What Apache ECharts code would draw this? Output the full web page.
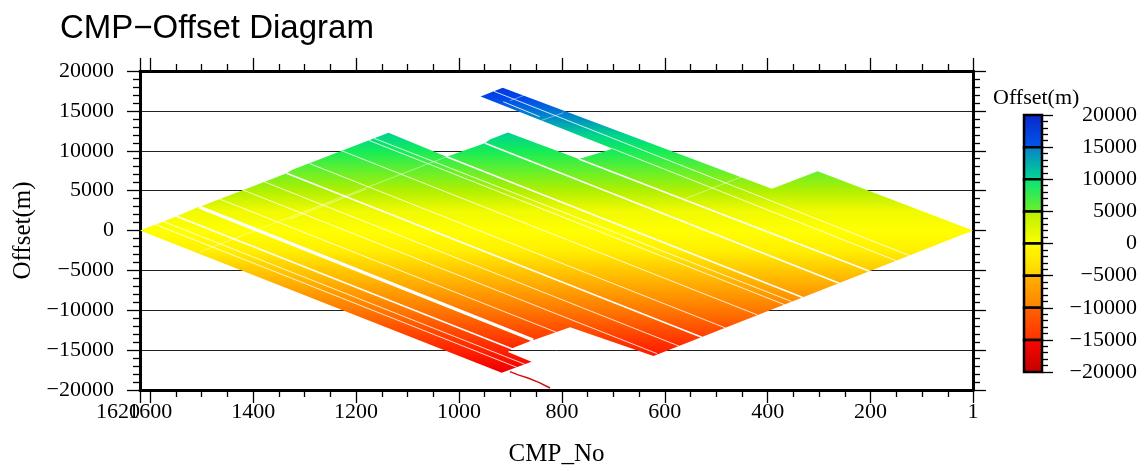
<!DOCTYPE html>
<html><head><meta charset="utf-8">
<script src="https://cdn.jsdelivr.net/npm/echarts@6/dist/echarts.min.js"></script>
<style>html,body{margin:0;padding:0;background:#fff}#c{width:1147px;height:471px}</style>
</head><body><div id="c"></div>
<script>
// ---------- text ----------
const titleText = 'CMP\u2212Offset Diagram';
const xName = 'CMP_No';
const yName = 'Offset(m)';
const cbName = 'Offset(m)';
// ---------- ticks ----------
const xMajorTicks = [1620, 1600, 1400, 1200, 1000, 800, 600, 400, 200, 1];
const xMainLabels = [1600, 1400, 1200, 1000, 800, 600, 400, 200, 1];
const xEdgeLabels = [1620];
const xMinorTicks = [1550, 1500, 1450, 1350, 1300, 1250, 1150, 1100, 1050, 950, 900, 850, 750, 700, 650, 550, 500, 450, 350, 300, 250, 150, 100, 50];
const yMin = -20000, yMax = 20000, yStep = 5000;
// ---------- colour scale (smooth, used for the data) ----------
const colorValues = [20000, 16500, 14000, 12000, 10000, 7500, 5000, 2500, 0, -2500, -5000, -7500, -10000, -12500, -15000, -17500, -20000];
const colorList = ['#0a20c0', '#0048ec', '#0090c4', '#00d48c', '#14ec5a', '#64f02c', '#b0f000', '#f0fa00', '#ffff00', '#fff000', '#ffc800', '#ffa000', '#ff7800', '#ff4c00', '#ff2200', '#f00000', '#c00000'];
// ---------- colour bar segments: top colour / bottom colour for each 5000 band ----------
const cbBounds = [20000, 15000, 10000, 5000, 0, -5000, -10000, -15000, -20000];
const cbTopColors = ['#0a26c8', '#0a7ccc', '#00e47c', '#b4f000', '#ffff00', '#ffb400', '#ff6400', '#ff0800'];
const cbBotColors = ['#0058ee', '#00dc90', '#70f024', '#ffff00', '#ffd000', '#ff8000', '#ff3000', '#c00000'];
// ---------- covered CMP/offset region (CMP, offset) ----------
const mainRegion = [
  [1620, 0], [1581, 980], [1552, 1700], [1510, 2860], [1500, 3070], [1335, 7170], [1325, 7590],
  [1137, 12260], [1024, 9255], [950, 10950], [940, 11400], [905, 12300], [767, 8966], [701, 10245],
  [958, 16790], [915, 17895], [392, 5230], [303, 7436], [1, 0],
  [622, -15750], [784, -12140], [852, -13670], [856, -13730], [894, -14700], [905, -15236],
  [859, -16450], [917, -17830]
];
const tailLine = [[901, -17700], [885, -18100], [866, -18500], [845, -19050], [823, -19750]];
// ---------- gaps (CMP1, offset1, CMP2, offset2) ----------
const wideGaps = [[1505, 2960, 856, -13730]];
const mediumGaps = [
  [1335, 7170, 528, -13390], [1024, 9255, 332, -8400], [949, 10935, 261, -6600],
  [767, 8966, 203, -5079], [1549, 1800, 895, -14900]
];
const thinGaps = [
  [1228, 10000, 420, -10580], [1175, 11300, 367, -9305], [1165, 11560, 354, -8890],
  [1290, 8380, 482, -12220], [1420, 5080, 615, -15440], [1465, 3940, 811, -12750],
  [1575, 1140, 872, -16770], [1590, 760, 888, -17140], [1380, 6150, 572, -14500],
  [701, 10245, 150, -3790], [914, 16150, 843, 14270], [932, 17450, 124, -3160]
];
const faintGaps = [[1503, -2660, 1024, 9255], [839, 13820, 797, 14770], [901, 16277, 872, 16990], [1180, 5200, 1330, 1400], [560, 4000, 420, 7500]];

const serif = 'Liberation Serif, Times New Roman, serif';
const minusFmt = v => (v < 0 ? '\u2212' + Math.abs(v) : String(v));

function makeGrad(api) {
  const yTop = api.coord([api.value(0), yMax])[1];
  const yBot = api.coord([api.value(0), yMin])[1];
  const stops = colorValues.map((v, i) => ({ offset: (yMax - v) / (yMax - yMin), color: colorList[i] }));
  return new echarts.graphic.LinearGradient(0, yTop, 0, yBot, stops, true);
}
function gapSeries(data, width, color) {
  return {
    type: 'custom', xAxisIndex: 0, yAxisIndex: 0, silent: true, z: 3,
    data: data, encode: { x: [0, 2], y: [1, 3] },
    renderItem: (p, api) => {
      const a = api.coord([api.value(0), api.value(1)]);
      const b = api.coord([api.value(2), api.value(3)]);
      return { type: 'line', shape: { x1: a[0], y1: a[1], x2: b[0], y2: b[1] }, style: { stroke: color, lineWidth: width } };
    }
  };
}

const chart = echarts.init(document.getElementById('c'), null, { renderer: 'canvas' });
const xBase = { gridIndex: 0, type: 'value', min: 1, max: 1620, inverse: true, splitLine: { show: false } };
const tickStyle = { color: '#000', width: 1.3 };
const xLabelStyle = { fontFamily: serif, fontSize: 22, color: '#000', margin: 11, formatter: v => String(v) };
chart.setOption({
  animation: false,
  backgroundColor: '#fff',
  title: [
    { text: titleText, left: 55, top: 7, textStyle: { fontFamily: 'Liberation Sans, Arial, sans-serif', fontSize: 33, fontWeight: 'normal', color: '#000' } },
    { text: cbName, left: 988, top: 82, textStyle: { fontFamily: serif, fontSize: 22, fontWeight: 'normal', color: '#000' } }
  ],
  grid: [
    { left: 140, right: 174, top: 71, bottom: 81, containLabel: false, outerBoundsMode: 'none' },
    { left: 1024, width: 18, top: 115, height: 257, containLabel: false, outerBoundsMode: 'none' }
  ],
  xAxis: [
    Object.assign({}, xBase, {
      position: 'bottom',
      axisLine: { show: true, onZero: false, lineStyle: { color: '#000', width: 3 } },
      axisTick: { show: true, customValues: xMajorTicks, length: 13, lineStyle: tickStyle },
      axisLabel: Object.assign({ show: true, customValues: xMainLabels, showMinLabel: true, showMaxLabel: true }, xLabelStyle),
      name: xName, nameLocation: 'middle', nameGap: 52,
      nameTextStyle: { fontFamily: serif, fontSize: 25, color: '#000' }
    }),
    Object.assign({}, xBase, {
      position: 'top',
      axisLine: { show: true, onZero: false, lineStyle: { color: '#000', width: 3 } },
      axisTick: { show: true, customValues: xMajorTicks, length: 13, lineStyle: tickStyle },
      axisLabel: { show: false }
    }),
    Object.assign({}, xBase, {
      position: 'bottom',
      axisLine: { show: false, onZero: false },
      axisTick: { show: true, customValues: xMinorTicks, length: 7, lineStyle: tickStyle },
      axisLabel: Object.assign({ show: true, customValues: xEdgeLabels, showMinLabel: true, showMaxLabel: true, align: 'right' }, xLabelStyle)
    }),
    Object.assign({}, xBase, {
      position: 'top',
      axisLine: { show: false, onZero: false },
      axisTick: { show: true, customValues: xMinorTicks, length: 7, lineStyle: tickStyle },
      axisLabel: { show: false }
    }),
    { gridIndex: 1, type: 'value', min: 0, max: 1, show: false }
  ],
  yAxis: [
    {
      gridIndex: 0, type: 'value', min: yMin, max: yMax, interval: yStep, position: 'left',
      axisLine: { show: true, onZero: false, lineStyle: { color: '#000', width: 3 } },
      axisTick: { show: true, length: 13, lineStyle: tickStyle },
      minorTick: { show: true, splitNumber: 5, length: 7, lineStyle: tickStyle },
      axisLabel: { fontFamily: serif, fontSize: 22, color: '#000', margin: 26, formatter: minusFmt, showMinLabel: true, showMaxLabel: true },
      splitLine: { show: true, lineStyle: { color: '#222', width: 1 } },
      name: yName, nameLocation: 'middle', nameGap: 104, nameRotate: 90,
      nameTextStyle: { fontFamily: serif, fontSize: 25, color: '#000' }
    },
    {
      gridIndex: 0, type: 'value', min: yMin, max: yMax, interval: yStep, position: 'right',
      axisLine: { show: true, onZero: false, lineStyle: { color: '#000', width: 3 } },
      axisTick: { show: true, length: 13, lineStyle: tickStyle },
      minorTick: { show: true, splitNumber: 5, length: 7, lineStyle: tickStyle },
      axisLabel: { show: false }, splitLine: { show: false }
    },
    {
      gridIndex: 1, type: 'value', min: yMin, max: yMax, interval: yStep, position: 'right',
      axisLine: { show: true, onZero: false, lineStyle: { color: '#000', width: 2 } },
      axisTick: { show: true, length: 11, lineStyle: tickStyle },
      minorTick: { show: true, splitNumber: 5, length: 6, lineStyle: tickStyle },
      axisLabel: { fontFamily: serif, fontSize: 22, color: '#000', align: 'right', margin: 95, formatter: minusFmt, showMinLabel: true, showMaxLabel: true },
      splitLine: { show: false }
    }
  ],
  series: [
    {
      type: 'custom', xAxisIndex: 0, yAxisIndex: 0, silent: true, z: 2,
      data: [[1620, 0]],
      renderItem: (p, api) => ({
        type: 'polygon',
        shape: { points: mainRegion.map(d => api.coord(d)) },
        style: { fill: makeGrad(api), stroke: null }
      })
    },
    gapSeries(wideGaps, 3.2, '#fff'),
    gapSeries(mediumGaps, 1.6, '#fff'),
    gapSeries(thinGaps, 0.9, 'rgba(255,255,255,0.9)'),
    gapSeries(faintGaps, 0.8, 'rgba(255,255,255,0.55)'),
    {
      type: 'line', xAxisIndex: 0, yAxisIndex: 0, data: tailLine, showSymbol: false, silent: true, z: 3,
      lineStyle: { color: '#d01010', width: 1.5 }
    },
    {
      type: 'custom', xAxisIndex: 4, yAxisIndex: 2, silent: true, z: 2,
      data: cbBounds.slice(0, -1).map((v, i) => [i, v, cbBounds[i + 1]]),
      encode: { x: 0, y: [1, 2] },
      renderItem: (p, api) => {
        const i = api.value(0);
        const a = api.coord([0, api.value(1)]);
        const b = api.coord([1, api.value(2)]);
        const grad = new echarts.graphic.LinearGradient(0, 0, 0, 1, [
          { offset: 0, color: cbTopColors[i] }, { offset: 1, color: cbBotColors[i] }
        ]);
        return {
          type: 'rect',
          shape: { x: a[0], y: a[1], width: b[0] - a[0], height: b[1] - a[1] },
          style: { fill: grad, stroke: '#000', lineWidth: 2.5 }
        };
      }
    }
  ]
});
</script></body></html>
